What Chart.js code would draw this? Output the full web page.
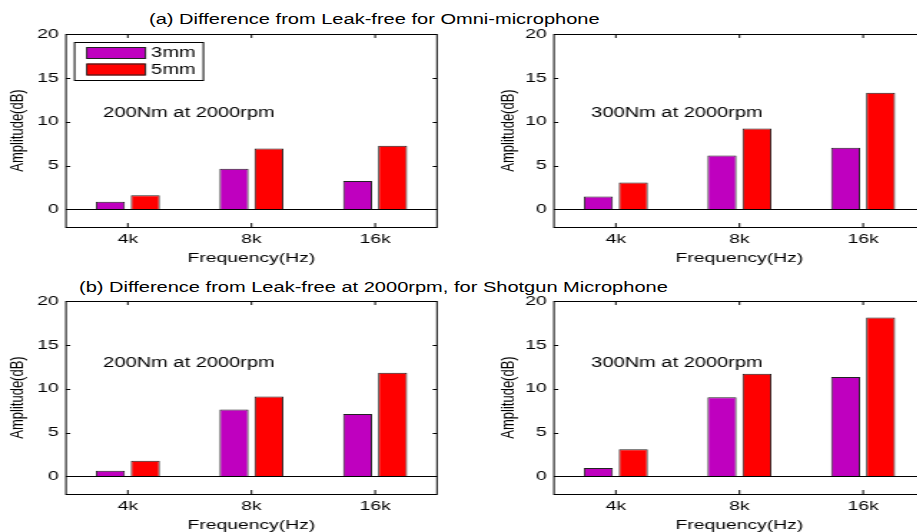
<!DOCTYPE html>
<html>
<head>
<meta charset="utf-8">
<script src="https://cdn.jsdelivr.net/npm/chart.js@4.4.1/dist/chart.umd.min.js"></script>
<style>
  html, body { margin: 0; padding: 0; background: #fff; }
  body { width: 917px; height: 532px; position: relative; overflow: hidden; }
  /* the original figure is stretched sideways, so every panel is drawn narrow and widened */
  .panel { position: absolute; width: 320px; height: 266px; transform: scaleX(1.43125); transform-origin: 0 0; }
  .title {
    position: absolute; font-family: "Liberation Sans", Arial, sans-serif; font-size: 14px;
    color: #000; white-space: nowrap; line-height: 16px;
    transform: scaleX(1.43125); transform-origin: 0 0;
  }
</style>
</head>
<body>
<div class="title" id="titleA" style="left:149px; top:11px;"></div>
<div class="title" id="titleB" style="left:79px; top:279px;"></div>
<div class="panel" style="left:0; top:0;"><canvas id="c0" width="320" height="266"></canvas></div>
<div class="panel" style="left:488px; top:0;"><canvas id="c1" width="320" height="266"></canvas></div>
<div class="panel" style="left:0; top:267px;"><canvas id="c2" width="320" height="266"></canvas></div>
<div class="panel" style="left:488px; top:267px;"><canvas id="c3" width="320" height="266"></canvas></div>

<script>
// data
var categories = ["4k", "8k", "16k"];
var seriesNames = ["3mm", "5mm"];
var yTicks = [0, 5, 10, 15, 20];

var omni200_3mm = [0.87, 4.64, 3.23];
var omni200_5mm = [1.63, 6.96, 7.26];
var omni300_3mm = [1.48, 6.16, 7.03];
var omni300_5mm = [3.08, 9.24, 13.31];
var shot200_3mm = [0.65, 7.62, 7.12];
var shot200_5mm = [1.79, 9.10, 11.81];
var shot300_3mm = [0.95, 9.03, 11.35];
var shot300_5mm = [3.09, 11.70, 18.13];

var titles = [
  "(a) Difference from Leak-free for Omni-microphone",
  "(b) Difference from Leak-free at 2000rpm, for Shotgun Microphone"
];
var notes = ["200Nm at 2000rpm", "300Nm at 2000rpm", "200Nm at 2000rpm", "300Nm at 2000rpm"];

var colors = ["#bf00bf", "#ff0000"];
var FONT = "Liberation Sans";

document.getElementById("titleA").textContent = titles[0];
document.getElementById("titleB").textContent = titles[1];

// frame, inward ticks, zero line, note and legend (matlab look)
var matlabFrame = {
  id: "matlabFrame",
  afterDatasetsDraw: function (chart, args, opts) {
    var ctx = chart.ctx;
    var a = chart.chartArea;
    var xs = chart.scales.x, ys = chart.scales.y;
    ctx.save();
    ctx.strokeStyle = "#000";
    ctx.lineWidth = 1;
    // zero line
    var y0 = Math.round(ys.getPixelForValue(0)) + 0.5;
    ctx.beginPath();
    ctx.moveTo(a.left, y0);
    ctx.lineTo(a.right, y0);
    // y ticks on both sides
    yTicks.forEach(function (v) {
      var y = Math.round(ys.getPixelForValue(v)) + 0.5;
      ctx.moveTo(a.left, y); ctx.lineTo(a.left + 3, y);
      ctx.moveTo(a.right, y); ctx.lineTo(a.right - 3, y);
    });
    // x ticks top and bottom
    categories.forEach(function (c, i) {
      var x = xs.getPixelForValue(i);
      ctx.moveTo(x, a.top); ctx.lineTo(x, a.top + 4);
      ctx.moveTo(x, a.bottom); ctx.lineTo(x, a.bottom - 4);
    });
    ctx.stroke();
    ctx.strokeRect(a.left, Math.round(a.top) + 0.5, a.right - a.left, Math.round(a.bottom - a.top));

    // annotation
    ctx.fillStyle = "#000";
    ctx.font = "14px '" + FONT + "'";
    ctx.textBaseline = "middle";
    ctx.textAlign = "left";
    ctx.fillText(opts.note, a.left + 26, ys.getPixelForValue(opts.noteY));

    // legend inside the first panel
    if (opts.legend) {
      var lx = a.left + 6, ly = a.top + 8;
      ctx.fillStyle = "#fff";
      ctx.fillRect(lx, ly, 90, 38);
      ctx.strokeRect(lx, ly + 0.5, 90, 38);
      chart.data.datasets.forEach(function (ds, i) {
        var ry = ly + 5 + i * 16.5;
        ctx.fillStyle = ds.backgroundColor;
        ctx.fillRect(lx + 8.5, ry, 41, 12);
        ctx.strokeStyle = "#222";
        ctx.strokeRect(lx + 8.5, ry + 0.5, 41, 11);
        ctx.fillStyle = "#000";
        ctx.fillText(ds.label, lx + 53.5, ry + 6.5);
      });
    }
    ctx.restore();
  }
};

function makePanel(id, s3, s5, note, noteY, yTitlePad, legend) {
  var ctx = document.getElementById(id).getContext("2d");
  return new Chart(ctx, {
    type: "bar",
    data: {
      labels: categories,
      datasets: [
        { label: seriesNames[0], data: s3, backgroundColor: colors[0] },
        { label: seriesNames[1], data: s5, backgroundColor: colors[1] }
      ]
    },
    options: {
      responsive: false,
      animation: false,
      events: [],
      layout: { padding: { top: 34, right: 14.7, left: 0, bottom: 0 } },
      datasets: {
        bar: {
          borderColor: "#222",
          borderWidth: 1,
          categoryPercentage: 0.566,
          barPercentage: 0.83
        }
      },
      scales: {
        x: {
          type: "category",
          grid: { display: false, drawTicks: false },
          border: { display: false },
          ticks: { color: "#000", padding: 4, font: { family: FONT, size: 13.5 } },
          title: {
            display: true, text: "Frequency(Hz)", color: "#000",
            font: { family: FONT, size: 13.5 }, padding: { top: 2, bottom: 0 }
          },
          afterFit: function (scale) { scale.height = 39; }
        },
        y: {
          min: -2, max: 20,
          grid: { display: false, drawTicks: false },
          border: { display: false },
          afterBuildTicks: function (scale) {
            scale.ticks = yTicks.map(function (v) { return { value: v }; });
          },
          ticks: { color: "#000", padding: 5, font: { family: FONT, size: 13.5 } },
          title: {
            display: true, text: "Amplitude(dB)", color: "#000",
            font: { family: FONT, size: 13 }, padding: { top: yTitlePad, bottom: 0 }
          },
          afterFit: function (scale) { scale.width = 46.1; }
        }
      },
      plugins: {
        legend: { display: false },
        tooltip: { enabled: false },
        matlabFrame: { note: note, noteY: noteY, legend: legend }
      }
    },
    plugins: [matlabFrame]
  });
}

makePanel("c0", omni200_3mm, omni200_5mm, notes[0], 11, 5, true);
makePanel("c1", omni300_3mm, omni300_5mm, notes[1], 11, 6.7, false);
makePanel("c2", shot200_3mm, shot200_5mm, notes[2], 12.9, 5, false);
makePanel("c3", shot300_3mm, shot300_5mm, notes[3], 12.9, 6.7, false);
</script>
</body>
</html>
